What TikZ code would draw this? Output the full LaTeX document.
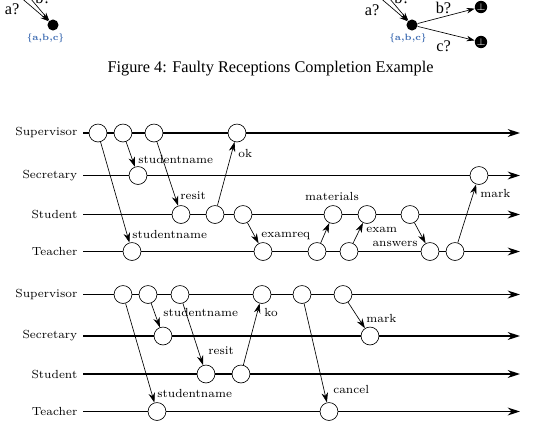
\documentclass[tikz,border=0pt]{standalone}
\usepackage{fontspec}
\newfontfamily\capfont{Liberation Serif}
\usetikzlibrary{arrows.meta}
\definecolor{setblue}{RGB}{62,108,178}

\begin{document}
	\begin{tikzpicture}[x=0.6135pt, y=-0.6135pt,
			ev/.style={circle, draw, thin, fill=white, minimum size=11pt, inner sep=0pt},
			stt/.style={circle, fill=black, minimum size=6.8pt, inner sep=0pt},
			bot/.style={circle, fill=black, text=white, minimum size=7.6pt, inner sep=0pt, font=\fontsize{6.5}{6.5}\selectfont},
			life/.style={line width=1.1pt, -{Stealth[length=7.5pt, width=4.8pt]}},
			msg/.style={thin, -{Stealth[length=6pt, width=4pt]}},
			trans/.style={thin, -{Stealth[length=5pt, width=3.4pt]}},
			role/.style={left, font=\fontsize{7.2}{8}\selectfont},
			lbl/.style={inner sep=0pt, font=\fontsize{7.2}{8}\selectfont},
			act/.style={inner sep=0pt, font=\capfont\fontsize{10}{12}\selectfont},
			ann/.style={inner sep=0pt, text=setblue, font=\bfseries\fontsize{5.6}{6}\selectfont}]
		\useasboundingbox ( 0, 0 ) rectangle ( 539, 421 );
		\clip ( 0, 0 ) rectangle ( 539, 421 );

		% фрагмент слева
		\node[stt] (qa) at ( 53, 25 ) {};
		\coordinate (qa1) at ( -2, -22 );
		\coordinate (qa2) at ( 8, -28 );
		\draw[trans] (qa1) -- (qa);
		\draw[trans] (qa2) -- (qa);
		\node[act] (qaa) at ( 12, 9 ) {a?};
		\node[act] (qab) at ( 43, -2 ) {b?};
		\node[ann] (qas) at ( 45.5, 38 ) {\{a,b,c\}};

		% фрагмент справа
		\node[stt] (qb) at ( 412, 25 ) {};
		\coordinate (qb1) at ( 357, -22 );
		\coordinate (qb2) at ( 367, -28 );
		\draw[trans] (qb1) -- (qb);
		\draw[trans] (qb2) -- (qb);
		\node[act] (qba) at ( 372, 10 ) {a?};
		\node[act] (qbb) at ( 402, -2 ) {b?};
		\node[ann] (qbs) at ( 408, 38 ) {\{a,b,c\}};
		\node[bot] (qbt1) at ( 481, 7 ) {$\bot$};
		\node[bot] (qbt2) at ( 481, 42 ) {$\bot$};
		\draw[trans] (qb) -- (qbt1);
		\draw[trans] (qb) -- (qbt2);
		\node[act] (qbl1) at ( 443.5, 8 ) {b?};
		\node[act] (qbl2) at ( 443.5, 46 ) {c?};

		% подпись
		\node[act] (cap) at ( 270.5, 69 ) {Figure 4: Faulty Receptions Completion Example};

		% первая диаграмма: линии
		\node[role] (supA) at ( 83, 133 ) {Supervisor};
		\node[role] (secA) at ( 83, 175.5 ) {Secretary};
		\node[role] (stuA) at ( 83, 214.5 ) {Student};
		\node[role] (teaA) at ( 83, 251.5 ) {Teacher};
		\coordinate (supAe) at ( 520, 133 );
		\coordinate (secAe) at ( 520, 175.5 );
		\coordinate (stuAe) at ( 520, 214.5 );
		\coordinate (teaAe) at ( 520, 251.5 );
		\draw[life] (supA.east) -- (supAe);
		\draw[life] (secA.east) -- (secAe);
		\draw[life] (stuA.east) -- (stuAe);
		\draw[life] (teaA.east) -- (teaAe);

		% первая диаграмма: события
		\node[ev] (supA1) at ( 98, 133 ) {};
		\node[ev] (supA2) at ( 123, 133 ) {};
		\node[ev] (supA3) at ( 154, 133 ) {};
		\node[ev] (supA4) at ( 237, 133 ) {};
		\node[ev] (secA1) at ( 138, 175.5 ) {};
		\node[ev] (secA2) at ( 479, 175.5 ) {};
		\node[ev] (stuA1) at ( 181, 214.5 ) {};
		\node[ev] (stuA2) at ( 215, 214.5 ) {};
		\node[ev] (stuA3) at ( 243, 214.5 ) {};
		\node[ev] (stuA4) at ( 333, 214.5 ) {};
		\node[ev] (stuA5) at ( 367, 214.5 ) {};
		\node[ev] (stuA6) at ( 410, 214.5 ) {};
		\node[ev] (teaA1) at ( 132, 251.5 ) {};
		\node[ev] (teaA2) at ( 263, 251.5 ) {};
		\node[ev] (teaA3) at ( 317, 251.5 ) {};
		\node[ev] (teaA4) at ( 349, 251.5 ) {};
		\node[ev] (teaA5) at ( 430, 251.5 ) {};
		\node[ev] (teaA6) at ( 455, 251.5 ) {};

		% первая диаграмма: сообщения
		\draw[msg] (supA1) -- (teaA1);
		\draw[msg] (supA2) -- (secA1);
		\draw[msg] (supA3) -- (stuA1);
		\draw[msg] (stuA2) -- (supA4);
		\draw[msg] (stuA3) -- (teaA2);
		\draw[msg] (teaA3) -- (stuA4);
		\draw[msg] (teaA4) -- (stuA5);
		\draw[msg] (stuA6) -- (teaA5);
		\draw[msg] (teaA6) -- (secA2);
		\node[lbl, anchor=west] (mA1) at ( 132, 234 ) {studentname};
		\node[lbl, anchor=west] (mA2) at ( 138, 159 ) {studentname};
		\node[lbl, anchor=west] (mA3) at ( 180, 196 ) {resit};
		\node[lbl, anchor=west] (mA4) at ( 238, 153 ) {ok};
		\node[lbl, anchor=west] (mA5) at ( 261, 236 ) {examreq};
		\node[lbl] (mA6) at ( 332, 196 ) {materials};
		\node[lbl, anchor=west] (mA7) at ( 366, 229.5 ) {exam};
		\node[lbl, anchor=east] (mA8) at ( 418, 244 ) {answers};
		\node[lbl, anchor=west] (mA9) at ( 480, 193 ) {mark};

		% вторая диаграмма: линии
		\node[role] (supB) at ( 83, 294.5 ) {Supervisor};
		\node[role] (secB) at ( 83, 336 ) {Secretary};
		\node[role] (stuB) at ( 83, 374 ) {Student};
		\node[role] (teaB) at ( 83, 411.5 ) {Teacher};
		\coordinate (supBe) at ( 520, 294.5 );
		\coordinate (secBe) at ( 520, 336 );
		\coordinate (stuBe) at ( 520, 374 );
		\coordinate (teaBe) at ( 520, 411.5 );
		\draw[life] (supB.east) -- (supBe);
		\draw[life] (secB.east) -- (secBe);
		\draw[life] (stuB.east) -- (stuBe);
		\draw[life] (teaB.east) -- (teaBe);

		% вторая диаграмма: события
		\node[ev] (supB1) at ( 123, 294.5 ) {};
		\node[ev] (supB2) at ( 148, 294.5 ) {};
		\node[ev] (supB3) at ( 180, 294.5 ) {};
		\node[ev] (supB4) at ( 262, 294.5 ) {};
		\node[ev] (supB5) at ( 302, 294.5 ) {};
		\node[ev] (supB6) at ( 343, 294.5 ) {};
		\node[ev] (secB1) at ( 163, 336 ) {};
		\node[ev] (secB2) at ( 370, 336 ) {};
		\node[ev] (stuB1) at ( 206, 374 ) {};
		\node[ev] (stuB2) at ( 241, 374 ) {};
		\node[ev] (teaB1) at ( 157, 411.5 ) {};
		\node[ev] (teaB2) at ( 329, 411.5 ) {};

		% вторая диаграмма: сообщения
		\draw[msg] (supB1) -- (teaB1);
		\draw[msg] (supB2) -- (secB1);
		\draw[msg] (supB3) -- (stuB1);
		\draw[msg] (stuB2) -- (supB4);
		\draw[msg] (supB5) -- (teaB2);
		\draw[msg] (supB6) -- (secB2);
		\node[lbl, anchor=west] (mB1) at ( 157, 393 ) {studentname};
		\node[lbl, anchor=west] (mB2) at ( 163, 312 ) {studentname};
		\node[lbl, anchor=west] (mB3) at ( 208, 351 ) {resit};
		\node[lbl, anchor=west] (mB4) at ( 264, 312 ) {ko};
		\node[lbl, anchor=west] (mB5) at ( 333, 389 ) {cancel};
		\node[lbl, anchor=west] (mB6) at ( 366, 318 ) {mark};
	\end{tikzpicture}
\end{document}
